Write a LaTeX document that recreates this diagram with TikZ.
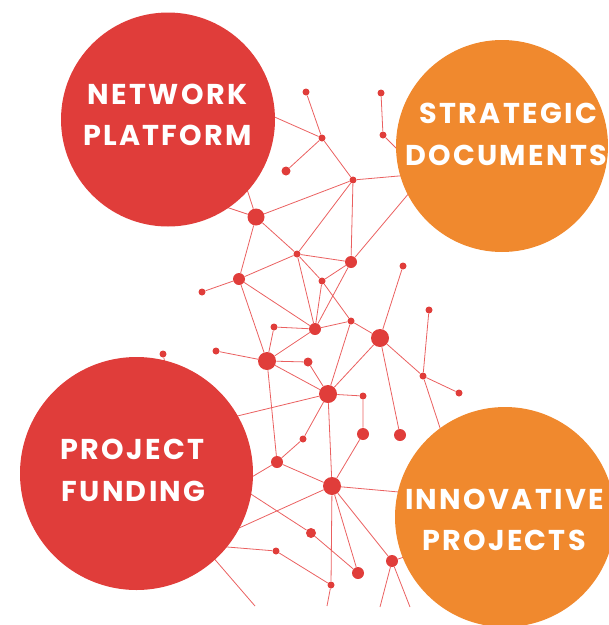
\documentclass[tikz,border=0pt]{standalone}
\usepackage{fontspec}
\newfontfamily\popfont{Poppins}[LetterSpace=8]
\usetikzlibrary{backgrounds}
\definecolor{cred}{RGB}{224,61,58}
\definecolor{corange}{RGB}{240,137,46}
\definecolor{lred}{RGB}{234,96,96}
\begin{document}
\begin{tikzpicture}[x=0.75pt,y=-0.75pt,
  bigcirc/.style={circle, inner sep=0pt, minimum size={#1*1.5pt}},
  netdot/.style={circle, fill=cred, inner sep=0pt, minimum size={#1*1.5pt}},
  edge/.style={draw=lred, line width=0.6pt},
  lbl/.style={text=white, font=\popfont\bfseries\fontsize{21.5}{25}\selectfont, anchor=base, inner sep=0pt}]
\useasboundingbox (0,0) rectangle (609,625);
\clip (0,0) rectangle (609,625);

% big circles
\node[bigcirc=107, fill=cred]    (np) at (168,119.5) {};
\node[bigcirc=106, fill=corange] (sd) at (502,146) {};
\node[bigcirc=116.5, fill=cred]  (pf) at (136.5,473.5) {};
\node[bigcirc=110, fill=corange] (ip) at (505,517) {};

% labels
\node[lbl] (t1) at (167.5,104) {NETWORK};
\node[lbl] (t2) at (167.5,145) {PLATFORM};
\node[lbl] (t3) at (508.5,123) {STRATEGIC};
\node[lbl] (t4) at (506,165) {DOCUMENTS};
\node[lbl] (t5) at (132.5,459) {PROJECT};
\node[lbl] (t6) at (133.5,501) {FUNDING};
\node[lbl] (t7) at (504.5,509) {INNOVATIVE};
\node[lbl] (t8) at (504,550) {PROJECTS};

% network dots
\node[netdot=3.5] (n1)  at (306,92) {};
\node[netdot=3.5] (n2)  at (381,93) {};
\node[netdot=3.5] (n3)  at (322,138) {};
\node[netdot=3.5] (n4)  at (383,135) {};
\node[netdot=4.5] (n5)  at (286,171) {};
\node[netdot=3.5] (n6)  at (353,180) {};
\node[netdot=8.5] (n7)  at (256,217) {};
\node[netdot=3.5] (n8)  at (297,254) {};
\node[netdot=6]   (n9)  at (351,262) {};
\node[netdot=6]   (n10) at (239,279) {};
\node[netdot=3.5] (n11) at (202,292) {};
\node[netdot=3.5] (n12) at (322,281) {};
\node[netdot=3.5] (n13) at (403,266) {};
\node[netdot=3.5] (n14) at (274,327) {};
\node[netdot=6]   (n15) at (315,329) {};
\node[netdot=3.5] (n16) at (351,321) {};
\node[netdot=9]   (n17) at (380,338) {};
\node[netdot=3.5] (n18) at (216,351) {};
\node[netdot=9]   (n19) at (267,361) {};
\node[netdot=3.5] (n20) at (163,354) {};
\node[netdot=4.5] (n21) at (308,362) {};
\node[netdot=9]   (n22) at (328,394) {};
\node[netdot=3.5] (n23) at (303,439) {};
\node[netdot=6]   (n24) at (277,462) {};
\node[netdot=9]   (n25) at (332,486) {};
\node[netdot=3.5] (n26) at (363,396) {};
\node[netdot=3.5] (n27) at (423,376) {};
\node[netdot=3.5] (n28) at (459,393) {};
\node[netdot=6]   (n29) at (363,434) {};
\node[netdot=6]   (n30) at (400,435) {};
\node[netdot=3.5] (n32) at (429,310) {};
\node[netdot=5]   (n33) at (311,533) {};
\node[netdot=3.5] (n34) at (276,551) {};
\node[netdot=6]   (n35) at (358,573) {};
\node[netdot=3.5] (n36) at (331,585) {};
\node[netdot=6]   (n37) at (392,561) {};

% free ends (hidden under circles or at the lower edge)
\coordinate (e1)  at (261,111);
\coordinate (e2)  at (214,203);
\coordinate (e3)  at (244,180);
\coordinate (e4)  at (405,157);
\coordinate (e5)  at (410,175);
\coordinate (e6)  at (415,186);
\coordinate (e7)  at (167,372);
\coordinate (e8)  at (225,419);
\coordinate (e9)  at (240,484);
\coordinate (e10) at (240,487);
\coordinate (e11) at (228,533);
\coordinate (e12) at (215,546);
\coordinate (e13) at (205,548);
\coordinate (e14) at (443,437);
\coordinate (e15) at (410,493);
\coordinate (e16) at (410,555);
\coordinate (b1)  at (255,606);
\coordinate (b2)  at (327,606);
\coordinate (b3)  at (380,607);
\coordinate (b4)  at (410,607);

\begin{pgfonlayer}{background}
\draw[edge] (n1)--(n3) (n3)--(n5) (n3)--(n6) (e1)--(n3)
  (n2)--(n4) (n4)--(e4) (n6)--(e5) (n6)--(n7) (n6)--(n8) (n6)--(n9)
  (n9)--(e6) (n7)--(e2) (n7)--(e3) (n7)--(n8) (n7)--(n10)
  (n8)--(n9) (n8)--(n10) (n8)--(n12) (n8)--(n15) (n9)--(n12) (n9)--(n15)
  (n10)--(n11) (n10)--(n15) (n10)--(n19) (n12)--(n15) (n12)--(n16)
  (n13)--(n17) (n14)--(n15) (n14)--(n19) (n15)--(n16) (n15)--(n19)
  (n16)--(n17) (n16)--(n22) (n17)--(n22) (n17)--(n27) (n17)--(n30)
  (n18)--(n19) (n19)--(n21) (n19)--(n22) (n19)--(n24) (n20)--(e7)
  (n21)--(n22) (n22)--(n26) (n22)--(n25) (n22)--(n23) (n22)--(e8)
  (n23)--(n24) (n26)--(n29) (n29)--(n25) (n27)--(n28) (n27)--(n32) (n27)--(e14)
  (n24)--(n25) (n24)--(e9) (n25)--(e15) (n25)--(n36) (n25)--(n35) (n25)--(n37)
  (n25)--(e11) (n33)--(e10) (n33)--(n35) (n34)--(e12) (n34)--(n36)
  (n36)--(b2) (n37)--(e16) (n37)--(b3) (n37)--(b4) (e13)--(b1);
\end{pgfonlayer}
\end{tikzpicture}
\end{document}
